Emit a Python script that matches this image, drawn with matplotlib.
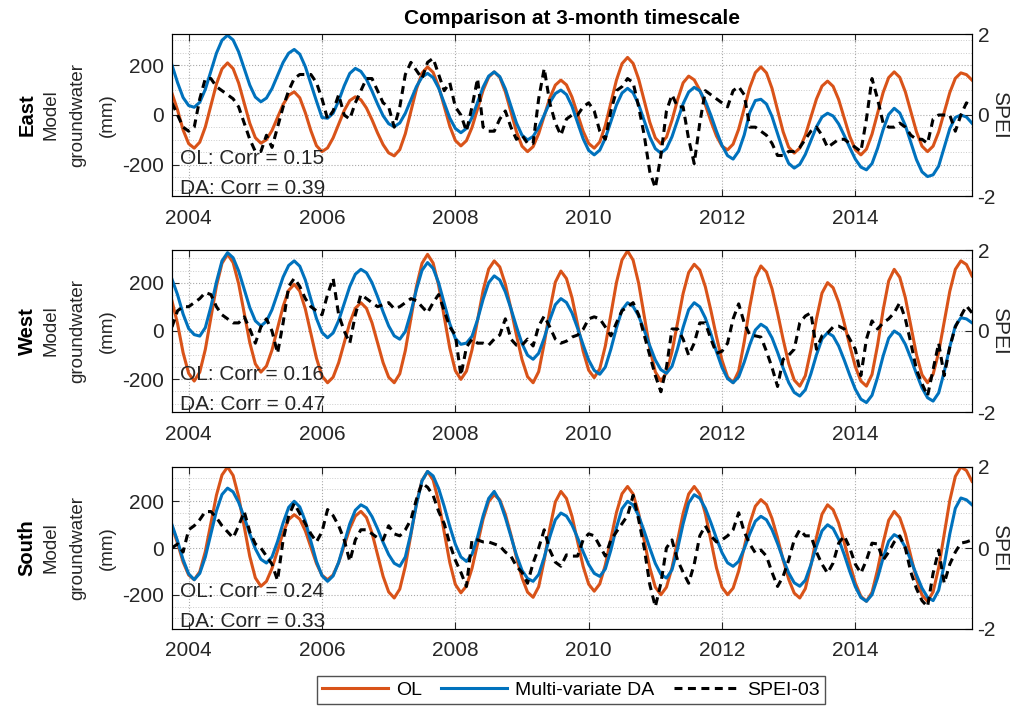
import numpy as np
import matplotlib.pyplot as plt
from matplotlib.ticker import MultipleLocator

plt.rcParams['font.family'] = ['Liberation Sans', 'DejaVu Sans']
plt.rcParams['axes.unicode_minus'] = False

# monthly values, Oct 2003 .. Oct 2015
months = 2003.75 + np.arange(145) / 12

regions = ['East', 'West', 'South']
ol_corr = [0.15, 0.16, 0.24]
da_corr = [0.39, 0.47, 0.33]
gw_lim = [325, 335, 345]

east_ol = [87, 20, -60,
           -115, -133, -109, -48, 38, 124, 185, 209, 186, 128, 48, -33,
           -91, -113, -99, -62, -10, 42, 79, 93, 69, 9, -63, -123,
           -147, -132, -92, -37, 18, 58, 73, 61, 28, -19, -72, -119,
           -152, -164, -139, -75, 15, 104, 168, 193, 171, 114, 35, -45,
           -102, -124, -103, -50, 25, 99, 152, 173, 151, 93, 13, -67,
           -125, -147, -127, -75, -4, 68, 120, 140, 121, 72, 4, -65,
           -114, -133, -108, -42, 49, 140, 206, 231, 207, 144, 58, -29,
           -92, -116, -89, -21, 61, 129, 156, 141, 100, 41, -25, -84,
           -125, -140, -117, -57, 27, 110, 170, 193, 169, 107, 20, -67,
           -129, -153, -133, -81, -9, 64, 116, 136, 115, 62, -12, -86,
           -139, -160, -137, -77, 7, 90, 150, 173, 151, 93, 13, -67,
           -125, -147, -125, -68, 11, 90, 147, 169, 162, 140]
east_da = [200, 130, 70,
           38, 31, 51, 103, 176, 248, 300, 320, 301, 253, 187, 120,
           72, 53, 68, 106, 158, 211, 248, 263, 244, 194, 125, 56,
           -10, -13, 7, 57, 117, 167, 187, 175, 143, 96, 44, -3,
           -35, -47, -32, 7, 60, 114, 152, 167, 150, 108, 48, -12,
           -54, -71, -54, -10, 51, 112, 156, 173, 154, 105, 37, -32,
           -81, -100, -86, -50, 0, 50, 86, 100, 82, 35, -30, -95,
           -142, -160, -141, -93, -27, 40, 88, 107, 89, 42, -23, -88,
           -135, -153, -135, -87, -21, 45, 92, 111, 97, 56, -1, -65,
           -122, -163, -177, -145, -80, 10, 58, 63, 44, -6, -75, -144,
           -194, -213, -198, -158, -103, -48, -8, 7, -4, -36, -82, -131,
           -177, -209, -220, -195, -134, -59, 2, 27, 8, -42, -110, -179,
           -228, -247, -240, -205, -130, -55, -10, 0, -8, -33]
east_spei = [0.3, 0.0, -0.3,
             -0.4, -0.3, 0.4, 0.9, 0.9, 0.7, 0.6, 0.5, 0.4, 0.2, -0.2, -0.6,
             -0.9, -0.9, -0.5, -0.8, -0.3, 0.2, 0.6, 0.9, 1.0, 1.0, 1.0, 0.8,
             0.4, -0.1, 0.1, 0.5, 0.0, -0.1, 0.3, 0.6, 0.9, 0.9, 0.6, 0.3,
             0.2, -0.3, 0.2, 1.0, 1.3, 1.1, 0.9, 1.3, 1.4, 1.0, 0.6, 0.8,
             0.2, 0.0, -0.4, 0.2, 0.9, -0.3, -0.4, -0.4, -0.1, 0.1, -0.3, -0.6,
             -0.5, -0.7, -0.7, 0.4, 1.15, 0.3, -0.2, -0.5, -0.1, 0.0, 0.0, 0.2,
             0.3, 0.1, -0.4, -0.6, 0.1, 0.6, 0.7, 0.9, 0.8, 0.2, -0.5, -1.4,
             -1.8, -1.0, 0.1, 0.5, 0.2, 0.2, -0.6, -1.2, -0.2, 0.6, 0.5, 0.4,
             0.3, 0.2, 0.6, 0.7, 0.5, -0.3, -0.3, -0.4, -0.5, -0.7, -1.0, -1.0,
             -0.9, -0.9, -0.8, -0.6, -0.4, -0.3, -0.5, -0.8, -0.7, -0.6, -0.6, -0.7,
             -0.8, -0.9, -0.1, 0.9, 0.4, -0.2, -0.3, -0.3, -0.2, -0.3, -0.5, -0.6,
             -0.6, -0.7, -0.1, 0.0, 0.0, 0.0, -0.4, 0.0, 0.3, 0.2]

west_ol = [124, 30, -90,
           -175, -207, -170, -76, 55, 186, 280, 317, 283, 195, 74, -48,
           -136, -170, -145, -79, 12, 102, 168, 193, 165, 91, -11, -112,
           -186, -214, -191, -131, -49, 34, 94, 117, 94, 34, -49, -131,
           -191, -214, -177, -81, 52, 184, 280, 317, 281, 188, 59, -71,
           -164, -200, -166, -78, 45, 168, 256, 290, 265, 194, 93, -17,
           -118, -189, -214, -168, -52, 86, 202, 248, 217, 138, 28, -83,
           -162, -193, -156, -62, 69, 200, 294, 331, 293, 197, 62, -73,
           -169, -207, -173, -86, 35, 155, 242, 276, 252, 183, 85, -23,
           -121, -190, -214, -166, -45, 100, 221, 269, 244, 175, 75, -34,
           -134, -203, -228, -185, -78, 50, 157, 200, 179, 119, 33, -61,
           -147, -207, -228, -180, -59, 86, 207, 255, 222, 138, 21, -97,
           -181, -214, -179, -88, 38, 164, 255, 290, 275, 228]
west_da = [214, 150, 70,
           10, -15, -21, 14, 100, 203, 290, 324, 303, 248, 173, 97,
           42, 21, 40, 88, 156, 223, 271, 290, 268, 211, 131, 52,
           -6, -28, -8, 43, 114, 184, 235, 255, 241, 200, 142, 79,
           21, -20, -34, -2, 77, 172, 251, 283, 259, 199, 114, 30,
           -31, -55, -50, -22, 47, 131, 200, 228, 211, 162, 93, 18,
           -52, -100, -117, -92, -29, 46, 109, 134, 118, 75, 12, -57,
           -120, -163, -179, -149, -75, 13, 87, 117, 102, 62, 3, -61,
           -120, -160, -175, -146, -73, 15, 88, 117, 100, 54, -12, -85,
           -151, -197, -214, -190, -129, -57, 4, 28, 13, -28, -88, -153,
           -213, -254, -269, -243, -177, -99, -33, -7, -21, -62, -120, -183,
           -241, -282, -296, -266, -192, -104, -30, 0, -15, -55, -113, -177,
           -235, -276, -290, -256, -169, -66, 21, 55, 50, 34]
west_spei = [0.1, 0.5, 0.6,
             0.6, 0.7, 0.8, 0.95, 0.9, 0.6, 0.4, 0.3, 0.2, 0.2, 0.35, 0.05,
             -0.3, 0.1, 0.3, 0.0, -0.55, 0.2, 1.1, 1.3, 1.1, 0.8, 0.6, 0.5,
             0.4, 0.9, 1.3, 0.4, 0.0, -0.3, 0.4, 0.9, 0.8, 0.7, 0.6, 0.65,
             0.7, 0.55, 0.6, 0.7, 0.8, 0.75, 0.6, 0.45, 0.7, 0.9, 0.5, 0.1,
             -0.1, -1.1, -0.4, -0.2, -0.3, -0.3, -0.35, -0.2, -0.1, 0.3, -0.2, -0.35,
             -0.35, -0.2, -0.37, 0.12, 0.37, 0.1, -0.2, -0.3, -0.25, -0.15, -0.1, 0.04,
             0.3, 0.35, 0.3, 0.1, -0.12, 0.2, 0.5, 0.6, 0.7, 0.4, -0.1, -0.6,
             -1.1, -1.5, -0.9, 0.05, 0.05, -0.2, -0.6, -0.3, 0.2, 0.2, -0.2, -0.55,
             -0.5, -0.3, 0.3, 0.67, 0.2, -0.1, -0.12, -0.15, -0.5, -0.9, -1.37, -0.7,
             -0.6, -0.45, 0.2, 0.37, 0.45, -0.45, -0.12, -0.05, 0.1, 0.12, 0.05, -0.2,
             -0.45, -1.1, -0.2, 0.25, 0.05, 0.2, 0.3, 0.45, 0.7, 0.3, -0.3, -0.95,
             -1.3, -1.6, -0.95, -0.3, -1.1, -0.4, 0.1, 0.37, 0.62, 0.45]

south_ol = [92, 20, -60,
            -115, -135, -101, -15, 105, 225, 311, 345, 309, 218, 91, -36,
            -127, -163, -142, -87, -11, 66, 121, 142, 123, 73, 4, -66,
            -116, -135, -115, -62, 11, 83, 136, 156, 130, 64, -29, -121,
            -187, -213, -175, -78, 57, 191, 288, 326, 290, 197, 68, -62,
            -155, -191, -162, -87, 18, 123, 198, 227, 205, 144, 57, -40,
            -127, -188, -210, -165, -52, 83, 196, 241, 211, 135, 29, -78,
            -154, -184, -153, -72, 39, 151, 231, 262, 230, 147, 32, -84,
            -167, -199, -167, -84, 32, 147, 230, 262, 230, 147, 32, -84,
            -167, -199, -171, -98, 4, 105, 178, 206, 185, 126, 43, -50,
            -133, -192, -213, -173, -74, 45, 144, 184, 163, 106, 24, -67,
            -149, -206, -227, -189, -93, 22, 118, 156, 129, 60, -36, -132,
            -200, -227, -187, -84, 59, 202, 305, 345, 330, 284]
south_da = [99, 30, -50,
            -110, -135, -108, -38, 60, 158, 228, 255, 239, 194, 131, 60,
            -3, -48, -64, -38, 28, 107, 173, 199, 175, 114, 29, -57,
            -118, -142, -119, -61, 21, 103, 161, 184, 171, 134, 82, 24,
            -28, -65, -78, -38, 63, 185, 286, 326, 307, 253, 177, 92,
            16, -38, -57, -27, 47, 137, 211, 241, 200, 130, 50, -30,
            -95, -130, -142, -113, -40, 47, 120, 149, 136, 98, 44, -16,
            -70, -108, -121, -89, -9, 87, 167, 199, 183, 137, 71, 0,
            -66, -112, -128, -93, -4, 103, 192, 227, 212, 169, 108, 41,
            -20, -63, -78, -57, -3, 60, 114, 135, 120, 78, 19, -47,
            -106, -148, -163, -137, -71, 7, 73, 99, 83, 37, -28, -100,
            -165, -211, -227, -199, -128, -43, 29, 57, 43, 4, -53, -114,
            -171, -210, -224, -180, -71, 60, 169, 213, 205, 184]
south_spei = [0.0, 0.1, -0.1,
              0.45, 0.55, 0.7, 0.9, 0.9, 0.75, 0.55, 0.4, 0.25, 0.55, 0.9, 0.4,
              0.1, 0.0, -0.2, -0.4, -0.8, 0.2, 0.8, 1.1, 0.85, 0.6, 0.35, 0.15,
              0.4, 0.95, 0.8, 0.55, 0.2, -0.33, 0.2, 0.45, 0.45, 0.35, 0.25, 0.2,
              0.55, 0.35, 0.3, 0.45, 0.7, 1.2, 1.6, 1.5, 1.3, 0.9, 0.6, 0.1,
              -0.3, -0.6, -0.95, 0.2, 0.2, 0.15, 0.15, 0.1, 0.05, -0.1, -0.2, -0.45,
              -0.6, -0.87, -0.37, 0.0, 0.45, -0.05, -0.35, -0.45, -0.17, -0.2, -0.2, 0.2,
              0.35, 0.3, 0.05, -0.2, 0.2, 0.4, 0.6, 0.8, 1.3, 0.7, 0.0, -0.9,
              -1.45, -0.87, 0.0, 0.2, -0.3, -0.6, -0.87, -0.4, 0.3, 0.55, 0.3, 0.15,
              0.2, 0.3, 0.45, 0.87, 0.4, 0.1, -0.12, -0.05, -0.2, -0.6, -0.95, -0.7,
              -0.3, 0.2, 0.45, 0.3, 0.3, -0.1, -0.4, -0.62, -0.37, 0.12, 0.3, 0.0,
              -0.4, -0.62, -0.3, 0.12, 0.1, -0.3, -0.1, 0.15, 0.3, 0.0, -0.6, -1.0,
              -1.3, -1.45, -0.62, -0.05, -0.87, -0.4, -0.1, 0.12, 0.15, 0.2]

ol_all = [east_ol, west_ol, south_ol]
da_all = [east_da, west_da, south_da]
spei_all = [east_spei, west_spei, south_spei]

c_ol = '#D95319'
c_da = '#0072BD'
dark = '#262626'

fig = plt.figure(figsize=(10.13, 7.13), dpi=100)
W, H = 1013, 713
tops = [34, 250, 467]
ax_h = 162

for i in range(3):
    ax = fig.add_axes([172 / W, 1 - (tops[i] + ax_h) / H, 800 / W, ax_h / H])
    l1, = ax.plot(months, ol_all[i], color=c_ol, lw=2.2)
    l2, = ax.plot(months, da_all[i], color=c_da, lw=2.2)
    ax.set_xlim(2003.75, 2015.75)
    ax.set_ylim(-gw_lim[i], gw_lim[i])
    ax.set_yticks([-200, 0, 200])
    ax.yaxis.set_minor_locator(MultipleLocator(50))
    ax.set_xticks(range(2004, 2016, 2))
    ax.grid(which='major', ls=':', color='#aaaaaa', lw=0.8)
    ax.grid(which='minor', axis='y', ls=':', color='#cccccc', lw=0.7)
    ax.tick_params(direction='in', top=True, labelsize=15, labelcolor=dark,
                   color=dark, length=5, pad=6)
    ax.tick_params(axis='x', pad=9)
    ax.tick_params(which='minor', length=0)
    for s in ax.spines.values():
        s.set_color(dark)

    ax2 = ax.twinx()
    l3, = ax2.plot(months, spei_all[i], color='k', ls='--', lw=2.2, dashes=(2.6, 1.8))
    ax2.set_ylim(-2, 2)
    ax2.set_yticks([-2, 0, 2])
    ax2.tick_params(direction='in', labelsize=15, labelcolor=dark, color=dark,
                    length=5, pad=4)
    ax2.text(1.035, 0.5, 'SPEI', transform=ax2.transAxes, rotation=270,
             ha='center', va='center', fontsize=15, color=dark)

    ax2.text(0.01, 0.23, 'OL: Corr = %.2f' % ol_corr[i], transform=ax2.transAxes,
             fontsize=15, color=dark, va='center', zorder=5)
    ax2.text(0.01, 0.045, 'DA: Corr = %.2f' % da_corr[i], transform=ax2.transAxes,
             fontsize=15, color=dark, va='center', zorder=5)

    ax.text(-0.181, 0.5, regions[i], transform=ax.transAxes, rotation=90,
            ha='center', va='center', fontsize=14.5, fontweight='bold', color='k')
    ax.text(-0.151, 0.5, 'Model', transform=ax.transAxes, rotation=90,
            ha='center', va='center', fontsize=13.5, color=dark)
    ax.text(-0.1175, 0.5, 'groundwater', transform=ax.transAxes, rotation=90,
            ha='center', va='center', fontsize=13.5, color=dark)
    ax.text(-0.081, 0.5, '(mm)', transform=ax.transAxes, rotation=90,
            ha='center', va='center', fontsize=13.5, color=dark)

fig.text(572 / W, 1 - 18 / H, 'Comparison at 3-month timescale', ha='center',
         va='center', fontsize=15, fontweight='bold', color='k')

leg = fig.legend([l1, l2, l3], ['OL', 'Multi-variate DA', 'SPEI-03'],
                 loc='center', bbox_to_anchor=(571 / W, 1 - 690 / H), ncol=3,
                 fontsize=14, frameon=True, fancybox=False, edgecolor=dark,
                 handlelength=3.4, handletextpad=0.4, columnspacing=1.0,
                 borderpad=0.25)
leg.get_frame().set_linewidth(1.0)

fig.savefig('out.png', dpi=100)
